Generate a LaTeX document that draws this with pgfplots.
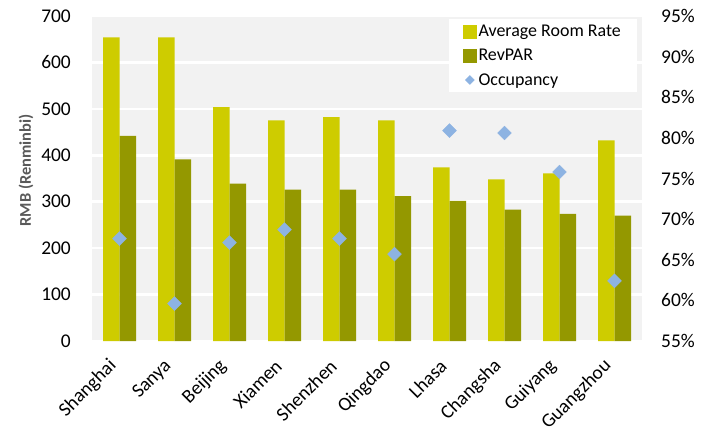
\documentclass[border=0pt]{standalone}
\usepackage{fontspec}
\setmainfont{Carlito}
\usepackage{pgfplots}
\pgfplotsset{compat=1.18}
\definecolor{arr}{HTML}{CECC00}
\definecolor{rev}{HTML}{949800}
\definecolor{occ}{HTML}{8DB3E2}
\definecolor{bg}{HTML}{F2F2F2}
\definecolor{lab}{HTML}{595959}
\begin{document}
\begin{tikzpicture}
\useasboundingbox (0,0) rectangle (708bp,432bp);
\begin{axis}[
  at={(92bp,91bp)}, anchor=south west,
  scale only axis, width=550bp, height=325bp,
  xmin=-0.5, xmax=9.5, ymin=0, ymax=700,
  ytick={0,100,...,700},
  xtick={0,...,9},
  xticklabels={Shanghai,Sanya,Beijing,Xiamen,Shenzhen,Qingdao,Lhasa,Changsha,Guiyang,Guangzhou},
  /pgf/number format/assume math mode=true,
  tick label style={font=\fontsize{19.5}{21}\selectfont, text=black},
  xticklabel style={xshift=-6bp, yshift=-22bp, rotate=45, anchor=east, inner sep=0pt},
  yticklabel style={inner sep=0pt, xshift=-21bp},
  major tick length=0pt,
  axis line style={draw=none},
  axis background/.style={fill=bg},
  ymajorgrids, grid style={white, line width=2.5bp},
  ylabel={RMB (Renminbi)},
  ylabel style={font=\bfseries\fontsize{16.5}{18}\selectfont, text=lab, at={(axis description cs:-0.12,0.525)}, anchor=center},
]
\addplot[ybar, bar width=16.5bp, bar shift=-8.25bp, fill=arr, draw=none] coordinates {
 (0,654) (1,654) (2,504) (3,475) (4,482) (5,475) (6,374) (7,348) (8,361) (9,432)};
\addplot[ybar, bar width=16.5bp, bar shift=8.25bp, fill=rev, draw=none] coordinates {
 (0,442) (1,391) (2,339) (3,326) (4,326) (5,312) (6,302) (7,283) (8,274) (9,270)};
\end{axis}
\begin{axis}[
  at={(92bp,91bp)}, anchor=south west,
  scale only axis, width=550bp, height=325bp,
  xmin=-0.5, xmax=9.5, ymin=55, ymax=95,
  ytick={55,60,...,95},
  yticklabel={\pgfmathprintnumber{\tick}\%},
  /pgf/number format/assume math mode=true,
  tick label style={font=\fontsize{19.5}{21}\selectfont, text=black},
  yticklabel style={inner sep=0pt, xshift=19bp},
  axis y line*=right, hide x axis,
  axis line style={draw=none},
  major tick length=0pt,
  legend style={at={(axis description cs:0.649,0.764)}, anchor=south west, fill=white, draw=none,
    font=\fontsize{18}{20}\selectfont, inner xsep=14bp, inner ysep=4bp, row sep=7bp},
  legend cell align=left,
]
\addlegendimage{legend image code/.code={\fill[arr] (0bp,-6bp) rectangle (13bp,6.5bp);}}
\addlegendentry{Average Room Rate}
\addlegendimage{legend image code/.code={\fill[rev] (0bp,-6bp) rectangle (13bp,6.5bp);}}
\addlegendentry{RevPAR}
\addplot[color=occ, only marks, mark=square*, mark size=4.9bp, mark options={rotate=45, fill=occ, draw=occ},
  legend image code/.code={\fill[occ] (6.5bp,-4.5bp) -- (11bp,0bp) -- (6.5bp,4.5bp) -- (2bp,0bp) -- cycle;}] coordinates {
 (0,67.6) (1,59.6) (2,67.1) (3,68.7) (4,67.6) (5,65.7) (6,80.9) (7,80.6) (8,75.8) (9,62.4)};
\addlegendentry{Occupancy}
\end{axis}
\end{tikzpicture}
\end{document}
